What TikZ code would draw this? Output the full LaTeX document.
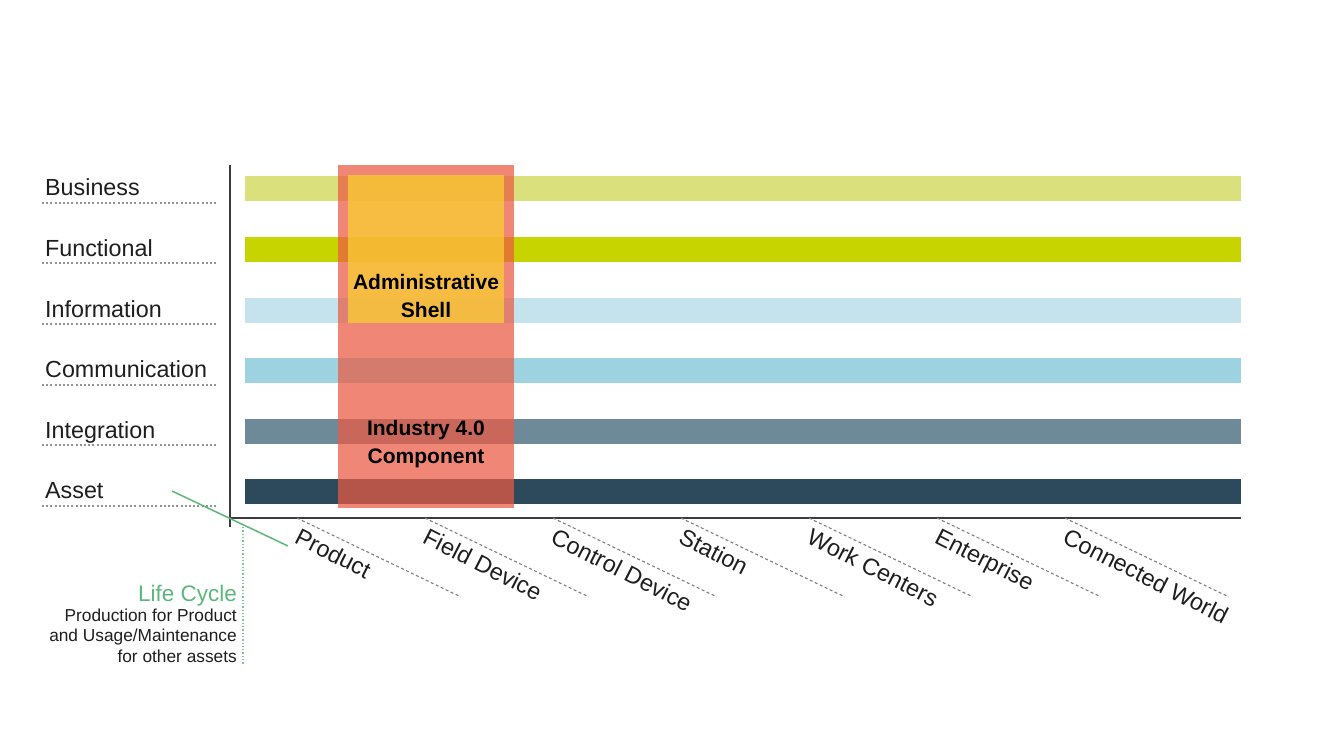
\documentclass[tikz,border=0pt]{standalone}
\usepackage{fontspec}
\setmainfont{Liberation Sans}
\definecolor{cBus}{RGB}{217,224,124}
\definecolor{cFun}{RGB}{200,212,0}
\definecolor{cInf}{RGB}{197,227,236}
\definecolor{cCom}{RGB}{157,211,224}
\definecolor{cInt}{RGB}{110,138,153}
\definecolor{cAss}{RGB}{44,74,92}
\definecolor{cRed}{RGB}{235,90,66}
\definecolor{cYel}{RGB}{250,208,50}
\definecolor{cGreen}{RGB}{92,184,122}
\definecolor{cAxis}{RGB}{60,60,60}
\definecolor{cTxt}{RGB}{30,30,30}
\begin{document}
\begin{tikzpicture}[x=1pt,y=-1pt,
  layerlabel/.style={anchor=base west,inner sep=0,text=cTxt,font=\fontsize{23.3}{27}\selectfont},
  layerdots/.style={draw=gray!85,line width=2pt,dash pattern=on 2pt off 2.2pt},
  layerbar/.style={draw=none,minimum height=25pt,minimum width=996pt,anchor=west,inner sep=0},
  axisline/.style={draw=cAxis,line width=1.8pt},
  hierdash/.style={draw=gray,line width=1.1pt,dash pattern=on 3pt off 2.5pt},
  hierlabel/.style={anchor=north west,inner sep=0,rotate=-27,text=cTxt,font=\fontsize{23.5}{27}\selectfont},
  boxtext/.style={align=center,inner sep=0,text=black,font=\bfseries\fontsize{21}{28}\selectfont},
  smalltext/.style={anchor=base east,inner sep=0,align=right,text=cTxt,font=\fontsize{17.3}{20.5}\selectfont}
]
\useasboundingbox[fill=white] (0,0) rectangle (1320,742);

% layer bars
\node[layerbar,fill=cBus] (bBus) at (245,188.5) {};
\node[layerbar,fill=cFun] (bFun) at (245,249) {};
\node[layerbar,fill=cInf] (bInf) at (245,310) {};
\node[layerbar,fill=cCom] (bCom) at (245,370.5) {};
\node[layerbar,fill=cInt] (bInt) at (245,431) {};
\node[layerbar,fill=cAss] (bAss) at (245,491.5) {};

% layer labels with dotted underlines
\foreach \nm/\txt/\yy in {lBus/Business/188.5,lFun/Functional/249,lInf/Information/310,lCom/Communication/370.5,lInt/Integration/431,lAss/Asset/491.5}{
  \node[layerlabel] (\nm) at (45,\yy+7) {\txt};
  \coordinate (\nm a) at (42,\yy+14);
  \coordinate (\nm b) at (217,\yy+14);
  \draw[layerdots] (\nm a) -- (\nm b);
}

% axes
\coordinate (vTop) at (230,165);
\coordinate (vBot) at (230,527);
\coordinate (hL) at (229,518);
\coordinate (hR) at (1241,518);
\draw[axisline] (vTop) -- (vBot);
\draw[axisline] (hL) -- (hR);

% overlays
\node[draw=none,fill=cRed,fill opacity=0.72,minimum width=176pt,minimum height=343pt,inner sep=0,anchor=north west] (comp) at (338,165) {};
\node[draw=none,fill=cYel,fill opacity=0.75,minimum width=156pt,minimum height=148pt,inner sep=0,anchor=north west] (shell) at (348,175) {};
\node[boxtext] (tShell) at (426,296) {Administrative\\Shell};
\node[boxtext] (tComp) at (426,444) {Industry 4.0\\Component};

% hierarchy levels
\foreach \nm/\txt/\xx in {hProd/Product/297,hField/Field Device/425,hCtrl/Control Device/553,hStat/Station/681,hWork/Work Centers/809,hEnt/Enterprise/937,hConn/Connected World/1065}{
  \coordinate (\nm s) at (\xx,518);
  \coordinate (\nm e) at (\xx+164,597);
  \draw[hierdash] (\nm s) -- (\nm e);
  \node[hierlabel] (\nm) at (\xx+4,527) {\txt};
}

% life cycle
\coordinate (gA) at (172,491);
\coordinate (gB) at (288,546);
\draw[draw=cGreen,line width=1.5pt] (gA) -- (gB);
\coordinate (gdT) at (243,527);
\coordinate (gdB) at (243,665);
\draw[draw=cGreen!80,line width=1.3pt,dash pattern=on 1.3pt off 2pt] (gdT) -- (gdB);
\node[anchor=base east,inner sep=0,text=cGreen,font=\fontsize{22.5}{26}\selectfont] (lc) at (237,601) {Life Cycle};
\node[smalltext] (lcs1) at (237,621) {Production for Product};
\node[smalltext] (lcs2) at (237,641.5) {and Usage/Maintenance};
\node[smalltext] (lcs3) at (237,662) {for other assets};
\end{tikzpicture}
\end{document}
